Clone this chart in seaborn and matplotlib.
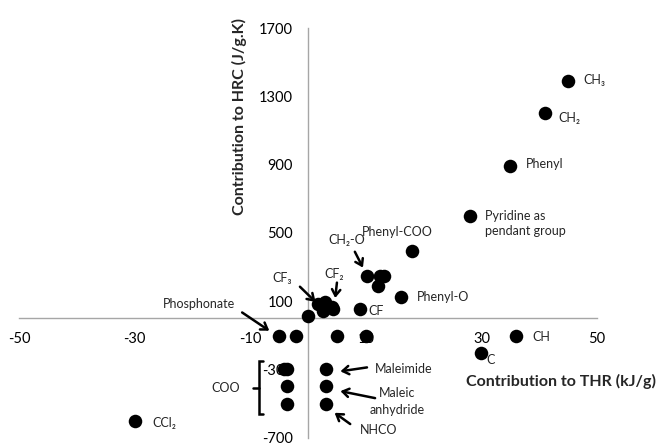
import matplotlib
matplotlib.use('Agg')
import matplotlib.pyplot as plt
import seaborn as sns

# Contribution of chemical groups to THR (kJ/g) and HRC (J/g.K)
thr = [45, 41, 35, 28, 18, 16,
       10.2, 12.5, 13.1, 12.1,
       0, 1.7, 2.9, 4.2, 2.6, 4.3, 9,
       -5, -2.1, 5, 10, 36, 30,
       -3.6, -4.2, -3.6, -3.7,
       3.1, 3.1, 3.1, -30]
hrc = [1390, 1200, 890, 600, 395, 125,
       249, 249, 249, 190,
       10, 85, 97, 68, 44, 56, 56,
       -102, -102, -102, -102, -105, -205,
       -300, -300, -400, -505,
       -300, -400, -505, -605]

x_ticks = [-50, -30, -10, 10, 30, 50]
y_ticks = [-700, -300, 100, 500, 900, 1300, 1700]

sns.set_style('white')
plt.rcParams['font.family'] = ['Lato', 'DejaVu Sans']
plt.rcParams['axes.unicode_minus'] = False

fig = plt.figure(figsize=(6.63, 4.46), dpi=100)
ax = fig.add_axes([0.0287, 0.019, 0.8718, 0.918])

sns.scatterplot(x=thr, y=hrc, color='black', s=95, linewidth=0,
                zorder=3, legend=False, ax=ax)

ax.set_xlim(-50, 50)
ax.set_ylim(-700, 1700)
ax.set_xticks(x_ticks)
ax.set_yticks(y_ticks)

# axes crossing at the origin
for side in ['top', 'right']:
    ax.spines[side].set_visible(False)
for side in ['left', 'bottom']:
    ax.spines[side].set_position(('data', 0))
    ax.spines[side].set_color('#a6a6a6')
    ax.spines[side].set_linewidth(1)
ax.tick_params(axis='both', direction='out', length=4, width=1,
               color='#a6a6a6', labelsize=10.5, labelcolor='black')
ax.tick_params(axis='x', pad=6)
ax.tick_params(axis='y', pad=7)

ax.set_xlabel('Contribution to THR (kJ/g)', fontsize=11.5, fontweight='bold')
ax.xaxis.set_label_coords(0.938, 0.1376)
ax.xaxis.label.set_va('center')
ax.set_ylabel('Contribution to HRC (J/g.K)', fontsize=11.5, fontweight='bold')
ax.yaxis.set_label_coords(0.382, 0.783)
ax.yaxis.label.set_va('center')

# point labels
fs = 9
lab = dict(fontsize=fs, va='center', ha='left')
ax.text(47.6, 1393, 'CH₃', **lab)
ax.text(43.3, 1171, 'CH₂', **lab)
ax.text(37.7, 903, 'Phenyl', **lab)
ax.text(30.6, 552, 'Pyridine as\npendant group', linespacing=1.3, **lab)
ax.text(15.4, 505, 'Phenyl-COO', fontsize=fs, va='center', ha='center')
ax.text(18.9, 126, 'Phenyl-O', **lab)
ax.text(10.4, 44, 'CF', **lab)
ax.text(38.8, -113, 'CH', **lab)
ax.text(30.8, -247, 'C', **lab)
ax.text(-27, -615, 'CCl₂', **lab)
ax.text(-11.8, -411, 'COO', fontsize=fs, va='center', ha='right')
ax.text(11.6, -300, 'Maleimide', **lab)
ax.text(15.5, -487, 'Maleic\nanhydride', fontsize=fs, va='center',
        ha='center', linespacing=1.5)
ax.text(12.3, -656, 'NHCO', fontsize=fs, va='center', ha='center')
ax.text(-18.9, 85, 'Phosphonate', fontsize=fs, va='center', ha='center')
ax.text(-4.5, 237, 'CF₃', fontsize=fs, va='center', ha='center')
ax.text(4.5, 260, 'CF₂', fontsize=fs, va='center', ha='center')
ax.text(6.7, 459, 'CH₂-O', fontsize=fs, va='center', ha='center')

# arrows (tail -> head)
arrows = [((8.1, 389), (9.5, 296)),
          ((5.0, 208), (4.7, 118)),
          ((-1.4, 184), (1.3, 95)),
          ((-11.4, 33), (-6.7, -74)),
          ((10.2, -289), (5.6, -312)),
          ((11.6, -469), (5.6, -428)),
          ((7.3, -621), (4.6, -555))]
for tail, head in arrows:
    ax.annotate('', xy=head, xytext=tail,
                arrowprops=dict(arrowstyle='->,head_length=0.45,head_width=0.3',
                                color='black', lw=1.8, shrinkA=0, shrinkB=0))

# bracket grouping the COO points
ax.plot([-7.8, -8.5, -8.5, -7.8], [-253, -253, -563, -563],
        color='black', lw=1.8, solid_joinstyle='miter', zorder=3)
ax.plot([-9.5, -8.5], [-411, -411], color='black', lw=1.8, zorder=3)

fig.savefig('out.png', dpi=100)
